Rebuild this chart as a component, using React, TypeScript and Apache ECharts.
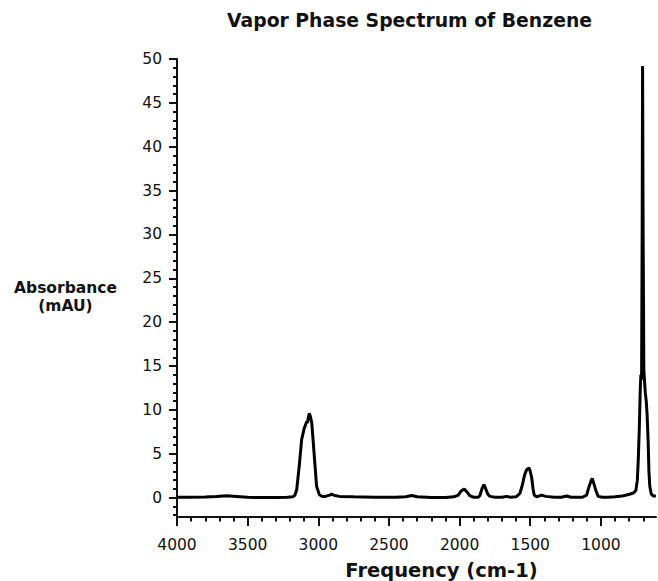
import React, { useEffect, useRef } from "react";
import * as echarts from "echarts";

const wavenumbers = [
  4000, 3900, 3800, 3720, 3650, 3580, 3500, 3400, 3300, 3220, 3180, 3165, 3153, 3135, 3118, 3100,
  3090, 3082, 3077, 3070, 3063, 3055, 3046, 3035, 3023, 3012, 2993, 2975, 2950, 2920, 2905, 2885,
  2850, 2750, 2600, 2450, 2380, 2340, 2300, 2200, 2100, 2040, 2010, 1990, 1967, 1945, 1927, 1900,
  1868, 1856, 1840, 1828, 1815, 1800, 1785, 1750, 1700, 1667, 1640, 1600, 1573, 1555, 1540, 1525,
  1509, 1500, 1490, 1480, 1472, 1455, 1420, 1390, 1330, 1280, 1243, 1210, 1130, 1101, 1085, 1070,
  1061, 1050, 1035, 1019, 990, 950, 900, 850, 818, 774, 753, 742, 735, 728, 721, 717,
  712, 708, 705, 701, 696, 686, 679, 673, 666, 660, 654, 643, 630, 611,
];
const absorbance = [
  0.05, 0.05, 0.08, 0.15, 0.22, 0.15, 0.05, 0.02, 0.02, 0.05, 0.1, 0.3, 0.9, 3.6, 6.6, 7.9,
  8.3, 8.7, 8.5, 9.2, 9.6, 9.2, 8.5, 6.2, 3.6, 1.3, 0.35, 0.15, 0.15, 0.3, 0.4, 0.25,
  0.15, 0.1, 0.05, 0.05, 0.1, 0.25, 0.1, 0.02, 0.03, 0.1, 0.3, 0.75, 1.0, 0.6, 0.2, 0.05,
  0.05, 0.25, 1.1, 1.5, 1.0, 0.4, 0.15, 0.05, 0.05, 0.15, 0.05, 0.1, 0.5, 1.5, 2.6, 3.2,
  3.4, 3.0, 2.3, 1.0, 0.3, 0.1, 0.3, 0.15, 0.05, 0.05, 0.2, 0.05, 0.05, 0.3, 1.2, 1.9,
  2.2, 1.6, 0.8, 0.15, 0.05, 0.05, 0.1, 0.2, 0.3, 0.5, 0.8, 2.0, 4.5, 8.0, 12.5, 14.0,
  13.5, 30, 49.2, 30, 14.5, 12.0, 11.0, 9.5, 6.6, 3.0, 1.3, 0.4, 0.2, 0.2,
];

const xLabelValues = [1000, 1500, 2000, 2500, 3000, 3500, 4000];
const xMinorTicks = [
  700, 800, 900, 1100, 1200, 1300, 1400, 1600, 1700, 1800, 1900, 2100, 2200, 2300, 2400,
  2600, 2700, 2800, 2900, 3100, 3200, 3300, 3400, 3600, 3700, 3800, 3900,
];
const yLabelValues = [0, 5, 10, 15, 20, 25, 30, 35, 40, 45, 50];
const yMinorTicks = [
  -2, -1, 1, 2, 3, 4, 6, 7, 8, 9, 11, 12, 13, 14, 16, 17, 18, 19, 21, 22, 23, 24, 26, 27, 28, 29,
  31, 32, 33, 34, 36, 37, 38, 39, 41, 42, 43, 44, 46, 47, 48, 49,
];

const X_MIN = 610;
const X_MAX = 4000;
const Y_MIN = -2.2;
const Y_MAX = 50;

const titleText = "Vapor Phase Spectrum of Benzene";
const xName = "Frequency (cm-1)";
const yNameLine1 = "Absorbance";
const yNameLine2 = "(mAU)";

const FONT = "'DejaVu Sans', Verdana, sans-serif";

export default function App() {
  const ref = useRef<HTMLDivElement>(null);

  useEffect(() => {
    if (!ref.current) return;
    const chart = echarts.init(ref.current, undefined, { renderer: "svg" });
    const data = wavenumbers.map((w, i) => [w, absorbance[i]]);
    const axisColor = "#111";

    const txt = (text: string, x: number, y: number, size: number) => ({
      type: "text",
      x,
      y,
      silent: true,
      style: {
        text,
        fill: "#111",
        font: `bold ${size}px ${FONT}`,
        align: "center",
        verticalAlign: "middle",
        textAlign: "center",
        textVerticalAlign: "middle",
      },
    });

    const plain = (v: number) => String(v);

    chart.setOption({
      animation: false,
      backgroundColor: "#fff",
      grid: { left: 177, right: 2, top: 59, bottom: 64, outerBoundsMode: "none", containLabel: false },
      xAxis: [
        {
          type: "value",
          min: X_MIN,
          max: X_MAX,
          inverse: true,
          position: "bottom",
          axisLine: { show: true, onZero: false, lineStyle: { color: axisColor, width: 2 } },
          axisTick: { show: true, customValues: xLabelValues, length: 9, lineStyle: { color: axisColor, width: 2 } },
          axisLabel: {
            show: true,
            customValues: xLabelValues,
            formatter: plain,
            margin: 20,
            color: "#111",
            fontSize: 15.5,
            fontFamily: FONT,
          },
          splitLine: { show: false },
        },
        {
          type: "value",
          min: X_MIN,
          max: X_MAX,
          inverse: true,
          position: "bottom",
          axisLine: { show: false, onZero: false },
          axisTick: { show: true, customValues: xMinorTicks, length: 4.5, lineStyle: { color: axisColor, width: 2 } },
          axisLabel: { show: false },
          splitLine: { show: false },
        },
      ],
      yAxis: [
        {
          type: "value",
          min: Y_MIN,
          max: Y_MAX,
          position: "left",
          axisLine: { show: true, onZero: false, lineStyle: { color: axisColor, width: 2 } },
          axisTick: { show: true, customValues: yLabelValues, length: 8, lineStyle: { color: axisColor, width: 2 } },
          axisLabel: {
            show: true,
            customValues: yLabelValues,
            formatter: plain,
            margin: 15,
            color: "#111",
            fontSize: 15.5,
            fontFamily: FONT,
          },
          splitLine: { show: false },
        },
        {
          type: "value",
          min: Y_MIN,
          max: Y_MAX,
          position: "left",
          axisLine: { show: false, onZero: false },
          axisTick: { show: true, customValues: yMinorTicks, length: 4, lineStyle: { color: axisColor, width: 2 } },
          axisLabel: { show: false },
          splitLine: { show: false },
        },
      ],
      series: [
        {
          type: "line",
          xAxisIndex: 0,
          yAxisIndex: 0,
          data,
          showSymbol: false,
          symbol: "none",
          lineStyle: { color: "#000", width: 3 },
          silent: true,
        },
      ],
      graphic: [
        txt(titleText, 409.5, 20.5, 18.8),
        txt(xName, 441.5, 570.5, 19.5),
        txt(yNameLine1, 65.5, 287.5, 15.5),
        txt(yNameLine2, 65.5, 305.5, 15.5),
      ],
    });

    return () => chart.dispose();
  }, []);

  return (
    <div
      ref={ref}
      style={{ position: "fixed", left: 0, top: 0, width: 658, height: 581, background: "#fff" }}
    />
  );
}
